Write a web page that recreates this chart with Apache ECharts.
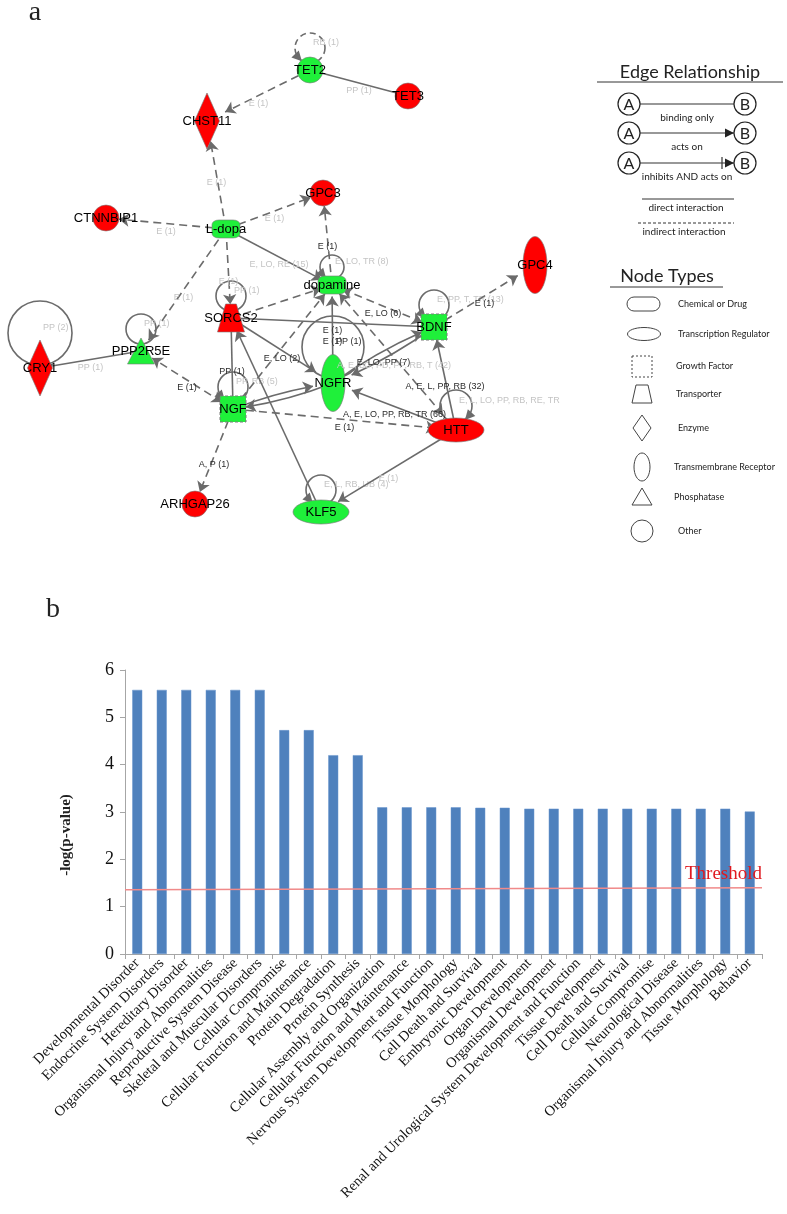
<!DOCTYPE html>
<html><head><meta charset="utf-8">
<script src="https://cdn.jsdelivr.net/npm/echarts@6/dist/echarts.min.js"></script>
<style>html,body{margin:0;padding:0;background:#fff}#c{width:787px;height:1214px}</style>
</head><body><div id="c"></div>
<script>
// ================= Panel b data =================
const categories = [
  'Developmental Disorder','Endocrine System Disorders','Hereditary Disorder',
  'Organismal Injury and Abnormalities','Reproductive System Disease','Skeletal and Muscular Disorders',
  'Cellular Compromise','Cellular Function and Maintenance','Protein Degradation','Protein Synthesis',
  'Cellular Assembly and Organization','Cellular Function and Maintenance',
  'Nervous System Development and Function','Tissue Morphology','Cell Death and Survival',
  'Embryonic Development','Organ Development','Organismal Development',
  'Renal and Urological System Development and Function','Tissue Development',
  'Cell Death and Survival','Cellular Compromise','Neurological Disease',
  'Organismal Injury and Abnormalities','Tissue Morphology','Behavior'
];
const values = [5.58,5.58,5.58,5.58,5.58,5.58,4.73,4.73,4.20,4.20,3.10,3.10,3.10,3.10,3.09,3.09,
  3.07,3.07,3.07,3.07,3.07,3.07,3.07,3.07,3.07,3.01];
const yTickValues = [0,1,2,3,4,5,6];
const thresholdValues = [1.36, 1.40];
const thresholdText = 'Threshold';
const yAxisTitle = '-log(p-value)';

// ================= Panel a data =================
const nodeNames = ['TET2','TET3','CHST11','GPC3','CTNNBIP1','L-dopa','dopamine','GPC4','SORCS2',
  'BDNF','PPP2R5E','CRY1','NGFR','NGF','HTT','ARHGAP26','KLF5'];
const nodeTypes = ['other','other','enzyme','other','other','chemical','chemical','transmembrane','transporter',
  'growth','phosphatase','enzyme','transmembrane','growth','transcription','other','transcription'];
const nodeRegulation = ['down','up','up','up','up','down','down','up','up',
  'down','down','up','down','down','up','up','down'];
const nodeX = [310,408,207,323,106,226,332,535,231,434,141,40,333,233,456,195,321];
const nodeY = [70,96,121,193,218,229,285,265,318,327,351,368,383,409,430,504,512];

// [source, target, indirect(1)/direct(0), arrow, label, darkLabel]
const edges = [
  ['TET2','TET3',0,'none','PP (1)',0],
  ['TET2','CHST11',1,'end','E (1)',0],
  ['L-dopa','CHST11',1,'end','E (1)',0],
  ['L-dopa','CTNNBIP1',1,'end','E (1)',0],
  ['L-dopa','GPC3',1,'end','E (1)',0],
  ['dopamine','GPC3',1,'end','E (1)',1],
  ['L-dopa','dopamine',0,'end','E, LO, RE (15)',0],
  ['L-dopa','SORCS2',1,'end','E (1)',0],
  ['L-dopa','PPP2R5E',1,'end','E (1)',0],
  ['SORCS2','dopamine',1,'end','',0],
  ['SORCS2','BDNF',0,'none','E (1)',1],
  ['SORCS2','NGFR',0,'end','E, LO (2)',1],
  ['NGF','SORCS2',0,'none','PP (1)',1],
  ['KLF5','SORCS2',0,'end','',0],
  ['NGF','dopamine',1,'end','',0],
  ['NGFR','dopamine',0,'end','E (1)',1],
  ['BDNF','dopamine',1,'both','E, LO (6)',1],
  ['HTT','dopamine',1,'both','A, E, LO, PD, PP, RB, T (42)',0],
  ['NGFR','BDNF',0,'end','E, LO, PP (7)',1],
  ['BDNF','NGFR',0,'end','',0],
  ['NGF','NGFR',0,'end','',0],
  ['NGFR','NGF',0,'end','',0],
  ['HTT','NGFR',0,'end','A, E, LO, PP, RB, TR (66)',1],
  ['HTT','BDNF',0,'end','A, E, L, PP, RB (32)',1],
  ['HTT','KLF5',0,'end','E (1)',0],
  ['NGF','HTT',1,'end','E (1)',1],
  ['NGF','PPP2R5E',1,'both','E (1)',1],
  ['NGF','ARHGAP26',1,'end','A, P (1)',1],
  ['BDNF','GPC4',1,'end','E (1)',1],
  ['CRY1','PPP2R5E',0,'none','PP (1)',0]
];
// self relations: [node, label, indirect, darkLabel, actsOn]
const loops = [
  ['TET2','RB (1)',1,0,1],
  ['dopamine','E, LO, TR (8)',0,0,1],
  ['SORCS2','PP (1)',0,0,0],
  ['BDNF','E, PP, T, TR (13)',0,0,1],
  ['PPP2R5E','PP (1)',0,0,0],
  ['CRY1','PP (2)',0,0,0],
  ['NGFR','PP (1)',0,1,0],
  ['NGF','PP, RB (5)',0,0,1],
  ['HTT','E, L, LO, PP, RB, RE, TR',0,0,1],
  ['KLF5','E, L, RB, UB (4)',0,0,1]
];

// ================= styles =================
const typeStyle = {
  other:        {symbol:'circle', size:26},
  enzyme:       {symbol:'diamond', size:[25,56]},
  chemical:     {symbol:'roundRect', size:[28,18]},
  transmembrane:{symbol:'circle', size:[24,57]},
  transporter:  {symbol:'path://M3,0 L7,0 L10,10 L0,10 Z', size:[27,28]},
  growth:       {symbol:'rect', size:[26,26], dashed:true},
  phosphatase:  {symbol:'triangle', size:[27,26]},
  transcription:{symbol:'circle', size:[56,24]}
};
const regColor = {up:'#ff0000', down:'#1ff03a'};
// [radius, centre lift above node, arrow angle (deg)]
const loopGeom = {CRY1:[32,35,150], NGFR:[31,36,150], dopamine:[12,18,140], HTT:[16,24,40], default:[15,22,140]};
const EDGE = '#6b6b6b', LIGHT = '#c4c4c4', DARK = '#2b2b2b';
const SANS = 'Liberation Sans', SERIF = 'Liberation Serif', LEG = 'Lato';

const idx = n => nodeNames.indexOf(n);
const hasReverse = (a,b) => edges.some(e => e[0]===b && e[1]===a);

const graphNodes = nodeNames.map((n,i) => {
  const st = typeStyle[nodeTypes[i]];
  return {
    name:n, value:[nodeX[i], nodeY[i]], symbol:st.symbol, symbolSize:st.size,
    itemStyle:{color:regColor[nodeRegulation[i]], borderColor:'#7a7a7a', borderWidth: st.dashed?1:0.6,
      borderType: st.dashed ? [3,2] : 'solid'}
  };
});
const graphLinks = edges.map(e => ({
  source:e[0], target:e[1],
  symbol: e[3]==='both' ? ['arrow','arrow'] : (e[3]==='end' ? ['none','arrow'] : ['none','none']),
  symbolSize: [10,10],
  lineStyle:{type: e[2] ? [8,5] : 'solid', curveness: hasReverse(e[0],e[1]) && e[3]!=='both' ? 0.06 : 0}
}));

const edgeLabelData = [];
edges.forEach((e,k) => {
  if (!e[4]) return;
  const a = idx(e[0]), b = idx(e[1]);
  edgeLabelData.push([(nodeX[a]+nodeX[b])/2, (nodeY[a]+nodeY[b])/2, k]);
});
const loopData = loops.map((l,k) => [nodeX[idx(l[0])], nodeY[idx(l[0])], k]);

// ================= legend graphics =================
const G = [];
function txt(x,y,t,size,opt){ G.push({type:'text', x:x, y:y, rotation:(opt&&opt.rot)||0, style:{text:t, fill:'#222',
  font: ((opt&&opt.weight)||'normal')+' '+size+'px '+(opt&&opt.family||LEG), textAlign:(opt&&opt.align)||'center', textVerticalAlign:'middle'}}); }
function line(x1,y1,x2,y2,dash,w){ G.push({type:'line', shape:{x1,y1,x2,y2}, style:{stroke:'#333', lineWidth:w||1, lineDash:dash||null}}); }
txt(35,13,'a',28,{family:SERIF});
txt(53,610,'b',28,{family:SERIF});
txt(66,835,yAxisTitle,15,{family:SERIF, weight:'bold', rot:Math.PI/2});
txt(690,72,'Edge Relationship',18);
line(597,82,783,82);
const rowsY = [104,133,163], rowTxt = ['binding only','acts on','inhibits AND acts on'];
rowsY.forEach((y,k) => {
  line(640,y,734,y,null,1.2);
  [[629,'A'],[745,'B']].forEach(c => {
    G.push({type:'circle', shape:{cx:c[0], cy:y, r:11}, style:{fill:'#fff', stroke:'#222', lineWidth:1.2}});
    txt(c[0], y+1, c[1], 16);
  });
  if (k>0) G.push({type:'polygon', shape:{points:[[734,y],[725,y-4.5],[725,y+4.5]]}, style:{fill:'#222'}});
  if (k===2) line(722,y-6,722,y+6,null,1.2);
  txt(687, y+14, rowTxt[k], 10);
});
line(642,199,734,199);
txt(686,208,'direct interaction',10);
line(638,223,734,223,[3,2]);
txt(684,232,'indirect interaction',10);
txt(667,276,'Node Types',18);
line(610,287,723,287);
const legStroke = {fill:'none', stroke:'#444', lineWidth:1};
G.push({type:'rect', shape:{x:627,y:297,width:33,height:14,r:7}, style:legStroke});
G.push({type:'ellipse', shape:{cx:644,cy:334,rx:16.5,ry:6.5}, style:legStroke});
G.push({type:'rect', shape:{x:632,y:356,width:20,height:21}, style:Object.assign({lineDash:[2,2]},legStroke)});
G.push({type:'polygon', shape:{points:[[636,385],[648,385],[652,403],[632,403]]}, style:legStroke});
G.push({type:'polygon', shape:{points:[[642,415],[651,428],[642,441],[633,428]]}, style:legStroke});
G.push({type:'ellipse', shape:{cx:642,cy:467,rx:8,ry:14}, style:legStroke});
G.push({type:'polygon', shape:{points:[[642,488],[652,505],[632,505]]}, style:legStroke});
G.push({type:'circle', shape:{cx:642,cy:531,r:11}, style:legStroke});
const legTypes = [['Chemical or Drug',304,678],['Transcription Regulator',334,678],['Growth Factor',366,676],
  ['Transporter',394,676],['Enzyme',428,678],['Transmembrane Receptor',467,674],['Phosphatase',497,674],['Other',531,678]];
legTypes.forEach(t => txt(t[2], t[1], t[0], 9, {align:'left'}));

// ================= chart =================
const chart = echarts.init(document.getElementById('c'), null, {renderer:'canvas'});
chart.setOption({
  animation:false,
  backgroundColor:'#fff',
  grid:[
    {left:0, top:0, width:600, height:560},
    {left:125, right:25, top:670, bottom:260}
  ],
  xAxis:[
    {gridIndex:0, type:'value', min:0, max:600, show:false},
    {gridIndex:1, type:'category', data:categories, boundaryGap:true,
      axisLine:{lineStyle:{color:'#a6a6a6'}},
      axisTick:{show:true, length:5, interval:0, lineStyle:{color:'#a6a6a6'}},
      axisLabel:{interval:0, rotate:45, margin:7, color:'#111', fontFamily:SERIF, fontSize:14.5}},
    {gridIndex:1, type:'value', min:0, max:1, show:false}
  ],
  yAxis:[
    {gridIndex:0, type:'value', min:0, max:560, inverse:true, show:false},
    {gridIndex:1, type:'value', min:yTickValues[0], max:yTickValues[yTickValues.length-1], interval:1,
      axisLine:{show:true, lineStyle:{color:'#a6a6a6'}},
      axisTick:{show:true, length:5, lineStyle:{color:'#a6a6a6'}},
      splitLine:{show:false},
      axisLabel:{color:'#111', fontFamily:SERIF, fontSize:18, margin:11}}
  ],
  graphic:G,
  series:[
    { // self relations
      type:'custom', coordinateSystem:'cartesian2d', xAxisIndex:0, yAxisIndex:0, z:1, silent:true,
      encode:{x:0, y:1}, data:loopData,
      renderItem:function(params, api){
        const l = loops[api.value(2)];
        const g = loopGeom[l[0]] || loopGeom.default;
        const p = api.coord([api.value(0), api.value(1)]);
        const r = g[0], cx = p[0], cy = p[1]-g[1];
        const children = [
          {type:'circle', shape:{cx:cx, cy:cy, r:r}, style:{fill:'none', stroke:EDGE, lineWidth:1.6, lineDash:l[2]?[6,4]:null}},
          {type:'text', style:{text:l[1], x:cx+3, y:cy-5, fill:l[3]?DARK:LIGHT, font:'9px '+SANS, textVerticalAlign:'middle'}}
        ];
        if (l[4]) {
          const a = g[2]*Math.PI/180;
          const px = cx + r*Math.cos(a), py = cy + r*Math.sin(a);
          let dx = p[0]-px, dy = p[1]-py; const d = Math.hypot(dx,dy); dx/=d; dy/=d;
          const tip = [px+dx*5, py+dy*5], b = [px-dx*5, py-dy*5];
          children.push({type:'polygon', shape:{points:[tip,[b[0]-dy*5,b[1]+dx*5],[b[0]+dy*5,b[1]-dx*5]]}, style:{fill:EDGE}});
        }
        return {type:'group', children:children};
      }
    },
    {
      type:'graph', coordinateSystem:'cartesian2d', xAxisIndex:0, yAxisIndex:0, z:2, silent:true,
      data:graphNodes, links:graphLinks,
      edgeSymbol:['none','arrow'], edgeSymbolSize:10,
      lineStyle:{color:EDGE, width:1.6, opacity:1},
      label:{show:true, position:'inside', color:'#000', fontFamily:SANS, fontSize:13},
      emphasis:{disabled:true}
    },
    { // edge labels
      type:'custom', coordinateSystem:'cartesian2d', xAxisIndex:0, yAxisIndex:0, z:3, silent:true,
      encode:{x:0, y:1}, data:edgeLabelData,
      renderItem:function(params, api){
        const e = edges[api.value(2)];
        const p = api.coord([api.value(0), api.value(1)]);
        return {type:'text', style:{text:e[4], x:p[0], y:p[1]+8, fill:e[5]?DARK:LIGHT, font:'9px '+SANS,
          textAlign:'center', textVerticalAlign:'middle'}};
      }
    },
    {
      type:'bar', xAxisIndex:1, yAxisIndex:1, data:values, barWidth:10,
      itemStyle:{color:'#4f81bd', borderColor:'#6b97cf', borderWidth:0.5}, silent:true
    },
    {
      type:'line', xAxisIndex:2, yAxisIndex:1, silent:true,
      data:[[0,thresholdValues[0]], {value:[1,thresholdValues[1]],
        label:{show:true, formatter:thresholdText, position:'top', align:'right', distance:4,
          color:'#e0191f', fontFamily:SERIF, fontSize:19}}],
      symbol:'circle', symbolSize:1, itemStyle:{color:'rgba(0,0,0,0)'},
      lineStyle:{color:'#f08a8a', width:1.5}
    }
  ]
});
</script></body></html>
